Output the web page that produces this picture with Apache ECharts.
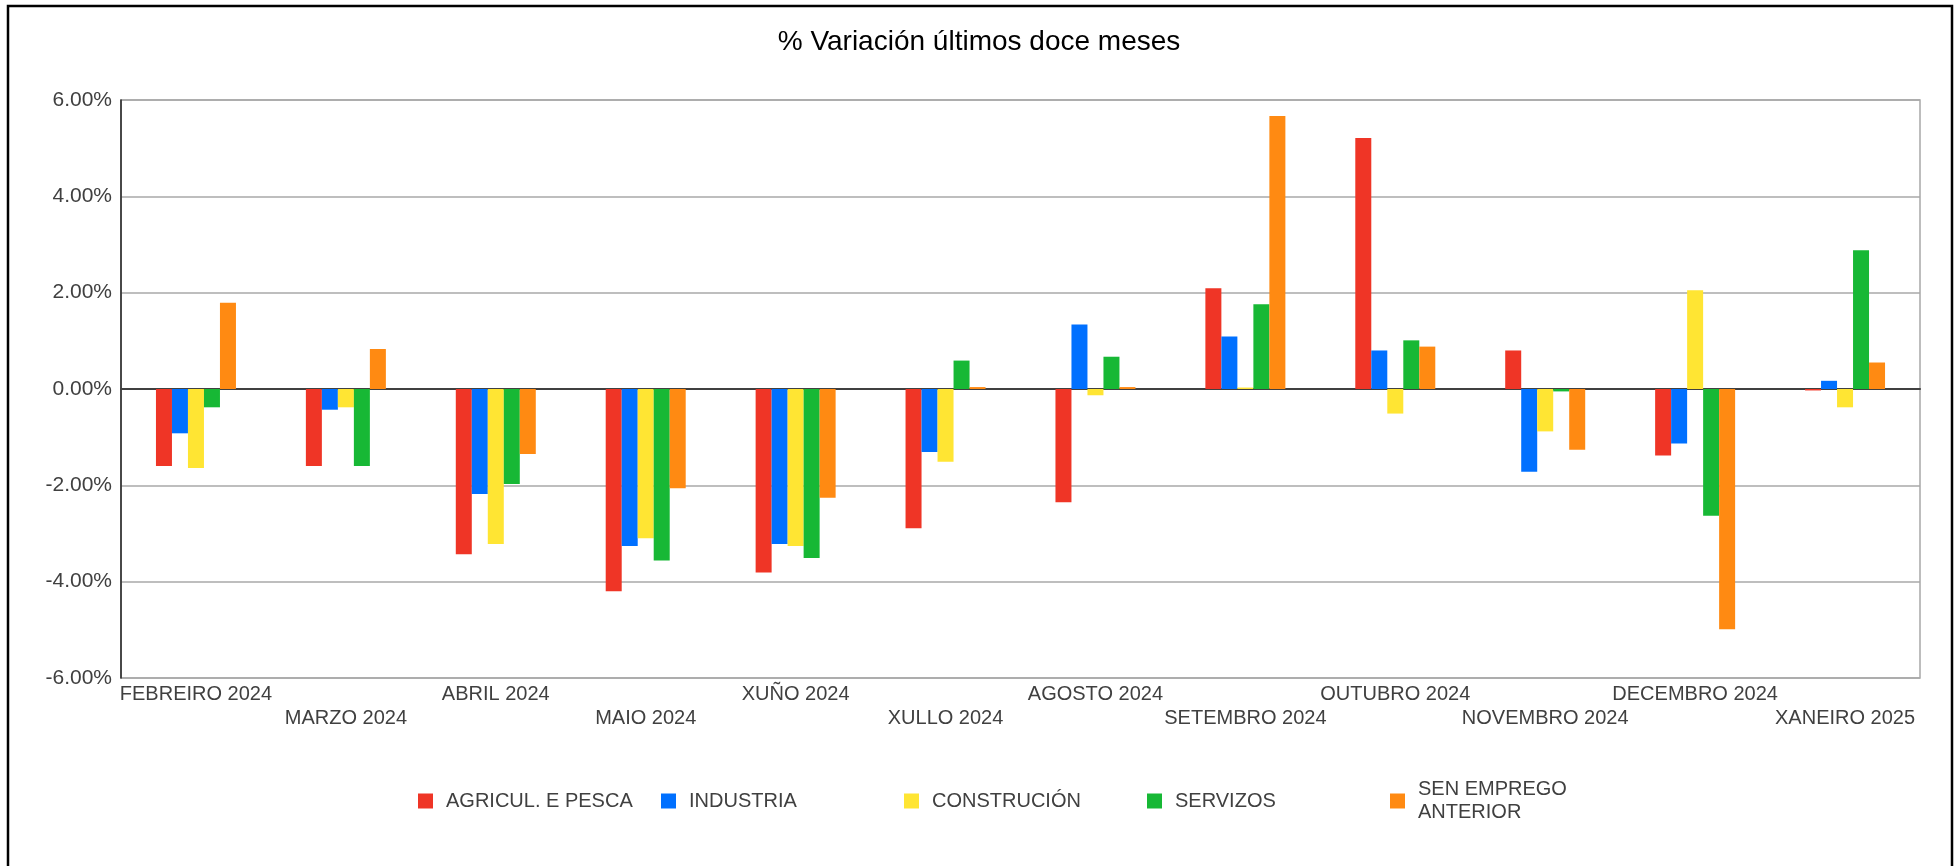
<!DOCTYPE html>
<html>
<head>
<meta charset="utf-8">
<title>% Variación últimos doce meses</title>
<script src="https://cdn.jsdelivr.net/npm/echarts@6/dist/echarts.min.js"></script>
<style>
  html, body { margin: 0; padding: 0; background: #fff; }
  #chart { width: 1958px; height: 866px; }
</style>
</head>
<body>
<div id="chart"></div>
<script>
// meses
const months = ['FEBREIRO 2024', 'MARZO 2024', 'ABRIL 2024', 'MAIO 2024', 'XUÑO 2024', 'XULLO 2024',
  'AGOSTO 2024', 'SETEMBRO 2024', 'OUTUBRO 2024', 'NOVEMBRO 2024', 'DECEMBRO 2024', 'XANEIRO 2025']

// % variación por sector
const agricultura = [-1.60, -1.60, -3.43, -4.20, -3.81, -2.89, -2.35, 2.09, 5.21, 0.80, -1.38, -0.03]
const industria = [-0.92, -0.43, -2.18, -3.26, -3.22, -1.31, 1.34, 1.09, 0.80, -1.72, -1.13, 0.17]
const construcion = [-1.64, -0.38, -3.22, -3.10, -3.26, -1.51, -0.13, 0.03, -0.51, -0.88, 2.05, -0.38]
const servizos = [-0.38, -1.60, -1.97, -3.56, -3.51, 0.59, 0.67, 1.76, 1.01, -0.05, -2.63, 2.88]
const senEmprego = [1.79, 0.83, -1.35, -2.06, -2.26, 0.04, 0.04, 5.67, 0.88, -1.26, -4.99, 0.55]

const yTicks = { min: -6, max: 6, interval: 2 }

const seriesDefs = [
  { name: 'AGRICUL. E PESCA', data: agricultura, color: '#EF3526' },
  { name: 'INDUSTRIA', data: industria, color: '#0070FF' },
  { name: 'CONSTRUCIÓN', data: construcion, color: '#FFE533' },
  { name: 'SERVIZOS', data: servizos, color: '#17B835' },
  { name: 'SEN EMPREGO ANTERIOR', data: senEmprego, color: '#FF8A12' }
]

const font = 'Liberation Sans, Arial, sans-serif'
const chart = echarts.init(document.getElementById('chart'))

chart.setOption({
  animation: false,
  textStyle: { fontFamily: font },
  title: {
    text: '% Variación últimos doce meses',
    left: 'center',
    top: 28,
    padding: 0,
    textStyle: { fontSize: 28, fontWeight: 'normal', color: '#000', fontFamily: font }
  },
  graphic: [{
    type: 'rect',
    shape: { x: 8, y: 6, width: 1944, height: 900 },
    style: { fill: 'none', stroke: '#000', lineWidth: 2.5 },
    silent: true
  }],
  legend: {
    left: 418,
    top: 778,
    padding: 0,
    itemWidth: 15,
    itemHeight: 15,
    itemGap: 15,
    icon: 'rect',
    formatter: name => name === 'SEN EMPREGO ANTERIOR' ? 'SEN EMPREGO\nANTERIOR' : name,
    textStyle: { fontSize: 20, color: '#404040', width: 200, lineHeight: 23, padding: [0, 0, 0, 8], fontFamily: font }
  },
  grid: {
    left: 121,
    right: 38,
    top: 100,
    bottom: 188,
    show: true,
    borderColor: '#a8a8a8',
    borderWidth: 1.5
  },
  xAxis: {
    type: 'category',
    data: months,
    axisLine: { lineStyle: { color: '#404040', width: 2 } },
    axisTick: { inside: true, length: 7, lineStyle: { color: '#404040', width: 1.5 } },
    axisLabel: {
      interval: 0,
      margin: 4,
      fontSize: 20,
      lineHeight: 24,
      color: '#404040',
      formatter: (v, i) => i % 2 ? '\n' + v : v
    }
  },
  yAxis: {
    type: 'value',
    min: yTicks.min,
    max: yTicks.max,
    interval: yTicks.interval,
    axisLine: { show: true, lineStyle: { color: '#222', width: 1.5 } },
    axisTick: { show: false },
    splitLine: { lineStyle: { color: '#a8a8a8', width: 1.5 } },
    axisLabel: {
      margin: 9,
      fontSize: 21,
      color: '#404040',
      formatter: v => v.toFixed(2) + '%'
    }
  },
  series: seriesDefs.map(s => ({
    name: s.name,
    type: 'bar',
    data: s.data,
    barWidth: 16,
    barGap: '0%',
    itemStyle: { color: s.color }
  }))
})
</script>
</body>
</html>
